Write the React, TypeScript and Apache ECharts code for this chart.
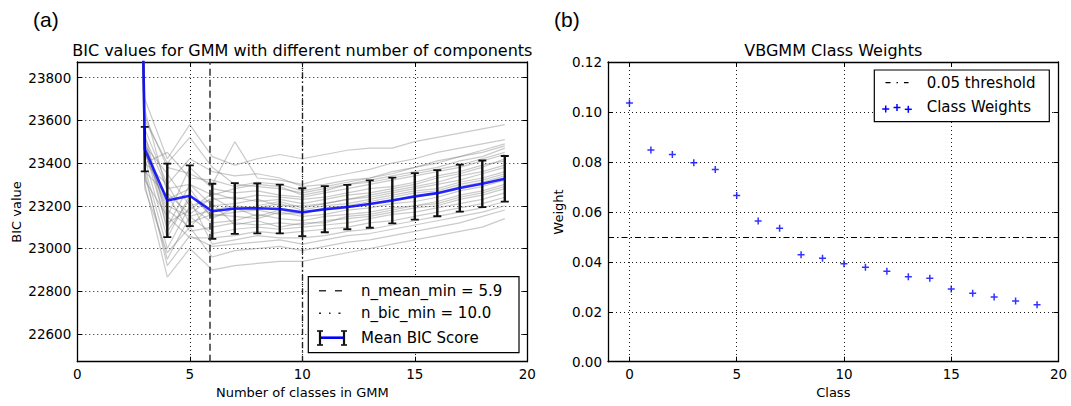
import React, { useEffect, useRef } from "react";
import * as echarts from "echarts";

// ---------- Data ----------
const bicClasses = [2, 3, 4, 5, 6, 7, 8, 9, 10, 11, 12, 13, 14, 15, 16, 17, 18, 19];
const meanBIC = [30000, 23465, 23225, 23247, 23174, 23187, 23188, 23185, 23170, 23184, 23194, 23208, 23225, 23244, 23259, 23283, 23303, 23326];
const stdBIC = [1500, 104, 172, 142, 129, 119, 117, 114, 112, 108, 104, 111, 107, 109, 108, 110, 109, 107];

const bicRuns = [
  [30600, 23700, 23420, 23580, 23430, 23390, 23420, 23440, 23420, 23440, 23460, 23470, 23470, 23500, 23520, 23540, 23560, 23580],
  [30300, 23620, 23380, 23350, 23300, 23500, 23330, 23320, 23300, 23330, 23350, 23370, 23400, 23420, 23450, 23470, 23490, 23510],
  [30100, 23560, 23300, 23420, 23360, 23340, 23350, 23330, 23290, 23300, 23320, 23330, 23350, 23380, 23400, 23430, 23460, 23490],
  [29900, 23520, 23280, 23300, 23250, 23280, 23300, 23290, 23250, 23270, 23300, 23320, 23340, 23360, 23380, 23410, 23430, 23470],
  [30400, 23500, 23150, 23380, 23280, 23260, 23270, 23250, 23240, 23260, 23280, 23300, 23320, 23340, 23360, 23380, 23410, 23440],
  [29700, 23480, 23350, 23200, 23230, 23240, 23220, 23230, 23210, 23230, 23250, 23260, 23280, 23300, 23330, 23350, 23380, 23420],
  [30200, 23460, 23100, 23300, 23200, 23210, 23230, 23200, 23200, 23210, 23230, 23250, 23270, 23290, 23310, 23340, 23360, 23390],
  [29800, 23440, 23200, 23150, 23180, 23200, 23190, 23210, 23180, 23200, 23210, 23230, 23250, 23270, 23280, 23310, 23330, 23360],
  [30000, 23420, 23050, 23250, 23150, 23170, 23180, 23160, 23170, 23180, 23190, 23210, 23230, 23240, 23260, 23290, 23310, 23340],
  [29600, 23400, 23300, 23120, 23160, 23150, 23140, 23170, 23150, 23160, 23180, 23190, 23210, 23220, 23240, 23270, 23290, 23320],
  [30500, 23380, 23000, 23200, 23120, 23130, 23160, 23140, 23130, 23150, 23160, 23170, 23190, 23200, 23220, 23250, 23270, 23300],
  [29900, 23360, 23250, 23080, 23100, 23120, 23110, 23120, 23110, 23130, 23140, 23150, 23170, 23190, 23200, 23230, 23250, 23280],
  [30100, 23340, 22950, 23150, 23070, 23090, 23100, 23090, 23100, 23110, 23120, 23140, 23160, 23170, 23190, 23210, 23230, 23260],
  [29500, 23320, 23150, 23050, 23050, 23060, 23080, 23070, 23080, 23090, 23100, 23120, 23130, 23150, 23170, 23190, 23210, 23240],
  [30300, 23300, 22866, 23000, 22900, 22920, 22930, 22940, 22940, 22960, 22980, 23000, 23020, 23040, 23060, 23080, 23100, 23140],
  [29800, 23280, 22980, 23100, 22960, 22990, 23000, 23010, 22990, 23010, 23030, 23040, 23060, 23080, 23100, 23120, 23150, 23180],
  [30000, 23600, 23400, 23520, 23380, 23300, 23290, 23280, 23260, 23280, 23300, 23310, 23330, 23350, 23370, 23390, 23420, 23450],
  [29700, 23540, 23120, 23180, 23260, 23230, 23250, 23240, 23230, 23240, 23260, 23280, 23290, 23310, 23340, 23360, 23390, 23410],
  [30200, 23480, 23230, 23280, 23140, 23190, 23150, 23180, 23160, 23190, 23200, 23220, 23240, 23260, 23270, 23300, 23320, 23350],
  [29900, 23450, 23180, 23100, 23210, 23110, 23130, 23100, 23120, 23120, 23150, 23160, 23180, 23200, 23210, 23240, 23260, 23290],
  [30400, 23520, 23080, 23230, 23020, 23040, 23060, 23050, 23050, 23060, 23080, 23090, 23110, 23130, 23150, 23170, 23190, 23220],
  [29600, 23400, 23450, 23330, 23320, 23290, 23310, 23300, 23270, 23290, 23310, 23330, 23360, 23380, 23410, 23430, 23450, 23480],
  [30100, 23360, 22920, 23060, 23010, 23020, 23030, 23040, 23020, 23040, 23060, 23070, 23090, 23110, 23130, 23150, 23170, 23200],
  [30000, 23650, 23260, 23160, 23240, 23180, 23200, 23220, 23190, 23210, 23230, 23240, 23260, 23280, 23300, 23320, 23350, 23380],
];

const nMeanMin = 5.9;
const nBicMin = 10.0;

const weightClasses = [0, 1, 2, 3, 4, 5, 6, 7, 8, 9, 10, 11, 12, 13, 14, 15, 16, 17, 18, 19];
const classWeights = [0.1036, 0.0848, 0.083, 0.0797, 0.077, 0.0665, 0.0563, 0.0534, 0.0428, 0.0414, 0.0392, 0.0378, 0.0362, 0.034, 0.0334, 0.0291, 0.0274, 0.0259, 0.0243, 0.0228];
const weightThreshold = 0.05;

const bicYRange = [22470, 23873];
const weightYRange = [0, 0.12];

// ---------- Styling ----------
const FONT = "'DejaVu Sans', 'Liberation Sans', sans-serif";
const PANEL_FONT = "'Liberation Sans', Arial, sans-serif";
const PLUS = "path://M0,2.75H2.75V0H4.25V2.75H7V4.25H4.25V7H2.75V4.25H0Z";

const G0 = { left: 77.3, top: 62, width: 450, height: 299.7 };
const G1 = { left: 608, top: 62, width: 450.5, height: 299.7 };

const gridDot = { show: true, lineStyle: { color: "#000", width: 0.9, type: [1, 3] as any } };
const frameLine = { show: true, onZero: false, lineStyle: { color: "#000", width: 1.3 } };
const tickIn = { show: true, inside: true, length: 5, lineStyle: { color: "#000", width: 1 } };
const labelStyle = (extra: any = {}) => ({ fontFamily: FONT, fontSize: 13.5, color: "#000", ...extra });

function buildOption(): any {
  const grayRuns = bicRuns.map((run, i) => ({
    type: "line",
    name: "run" + i,
    xAxisIndex: 0,
    yAxisIndex: 0,
    data: run.map((v, k) => [bicClasses[k], v]),
    symbol: "none",
    silent: true,
    z: 1,
    lineStyle: { color: "rgba(128,128,128,0.42)", width: 1.2 },
  }));

  const errData = bicClasses.map((c, k) => [c, meanBIC[k], stdBIC[k]]);

  return {
    animation: false,
    backgroundColor: "#fff",
    grid: [
      { ...G0, show: false, containLabel: false },
      { ...G1, show: false, containLabel: false },
    ],
    xAxis: [
      {
        gridIndex: 0, type: "value", min: 0, max: 20, interval: 5, position: "bottom",
        axisLine: frameLine, axisTick: tickIn, splitLine: gridDot,
        axisLabel: labelStyle({ margin: 5 }),
      },
      {
        gridIndex: 0, type: "value", min: 0, max: 20, interval: 5, position: "top",
        axisLine: frameLine, axisTick: tickIn, splitLine: { show: false }, axisLabel: { show: false },
      },
      {
        gridIndex: 1, type: "value", min: -1, max: 20, splitNumber: 4, position: "bottom",
        axisLine: frameLine, axisTick: tickIn, splitLine: gridDot,
        axisLabel: labelStyle({ margin: 5, showMinLabel: false }),
      },
      {
        gridIndex: 1, type: "value", min: -1, max: 20, splitNumber: 4, position: "top",
        axisLine: frameLine, axisTick: tickIn, splitLine: { show: false }, axisLabel: { show: false },
      },
    ],
    yAxis: [
      {
        gridIndex: 0, type: "value", min: bicYRange[0], max: bicYRange[1], splitNumber: 7, position: "left",
        axisLine: frameLine, axisTick: tickIn, splitLine: gridDot,
        axisLabel: labelStyle({ margin: 6, showMinLabel: false, showMaxLabel: false, formatter: (v: number) => String(v) }),
      },
      {
        gridIndex: 0, type: "value", min: bicYRange[0], max: bicYRange[1], splitNumber: 7, position: "right",
        axisLine: frameLine, axisTick: tickIn, splitLine: { show: false }, axisLabel: { show: false },
      },
      {
        gridIndex: 1, type: "value", min: weightYRange[0], max: weightYRange[1], interval: 0.02, position: "left",
        axisLine: frameLine, axisTick: tickIn, splitLine: gridDot,
        axisLabel: labelStyle({ margin: 6, formatter: (v: number) => v.toFixed(2) }),
      },
      {
        gridIndex: 1, type: "value", min: weightYRange[0], max: weightYRange[1], interval: 0.02, position: "right",
        axisLine: frameLine, axisTick: tickIn, splitLine: { show: false }, axisLabel: { show: false },
      },
    ],
    series: [
      ...grayRuns,
      {
        type: "custom",
        name: "errorbars",
        xAxisIndex: 0,
        yAxisIndex: 0,
        clip: true,
        z: 3,
        data: errData,
        renderItem: (params: any, api: any) => {
          const x = api.value(0);
          const m = api.value(1);
          const e = api.value(2);
          const top = api.coord([x, m + e]);
          const bot = api.coord([x, m - e]);
          const cap = 4;
          const st = { stroke: "#111", lineWidth: 2.4 };
          return {
            type: "group",
            children: [
              { type: "line", shape: { x1: top[0], y1: top[1], x2: bot[0], y2: bot[1] }, style: st },
              { type: "line", shape: { x1: top[0] - cap, y1: top[1], x2: top[0] + cap, y2: top[1] }, style: { stroke: "#111", lineWidth: 1.8 } },
              { type: "line", shape: { x1: bot[0] - cap, y1: bot[1], x2: bot[0] + cap, y2: bot[1] }, style: { stroke: "#111", lineWidth: 1.8 } },
            ],
          };
        },
      },
      {
        type: "line",
        name: "Mean BIC Score",
        xAxisIndex: 0,
        yAxisIndex: 0,
        data: bicClasses.map((c, k) => [c, meanBIC[k]]),
        symbol: "none",
        z: 5,
        lineStyle: { color: "rgba(0,0,255,0.85)", width: 2.6 },
        markLine: {
          silent: true,
          symbol: "none",
          label: { show: false },
          data: [
            { xAxis: nMeanMin, lineStyle: { color: "#333", width: 1.5, type: [7, 4] } },
            { xAxis: nBicMin, lineStyle: { color: "#222", width: 1.4, type: [6, 3, 1.5, 3] } },
          ],
        },
      },
      {
        type: "scatter",
        name: "Class Weights",
        xAxisIndex: 2,
        yAxisIndex: 2,
        data: weightClasses.map((c, k) => [c, classWeights[k]]),
        symbol: PLUS,
        symbolSize: 7,
        itemStyle: { color: "#0000ff" },
        z: 5,
        markLine: {
          silent: true,
          symbol: "none",
          label: { show: false },
          data: [{ yAxis: weightThreshold }],
          lineStyle: { color: "#000", width: 1.2, type: [6, 3, 1.5, 3] },
        },
      },
    ],
    graphic: [
      { type: "text", x: 33, y: 19, style: { text: "(a)", fontFamily: PANEL_FONT, fontSize: 21, fill: "#000", textAlign: "left", textVerticalAlign: "middle" } },
      { type: "text", x: 554, y: 19, style: { text: "(b)", fontFamily: PANEL_FONT, fontSize: 21, fill: "#000", textAlign: "left", textVerticalAlign: "middle" } },
      { type: "text", x: 302.3, y: 50.5, style: { text: "BIC values for GMM with different number of components", fontFamily: FONT, fontSize: 16, fill: "#000", textAlign: "center", textVerticalAlign: "middle" } },
      { type: "text", x: 833.3, y: 50.5, style: { text: "VBGMM Class Weights", fontFamily: FONT, fontSize: 16, fill: "#000", textAlign: "center", textVerticalAlign: "middle" } },
      { type: "text", x: 16, y: 212, rotation: Math.PI / 2, style: { text: "BIC value", fontFamily: FONT, fontSize: 13, fill: "#000", textAlign: "center", textVerticalAlign: "middle" } },
      { type: "text", x: 558.5, y: 212, rotation: Math.PI / 2, style: { text: "Weight", fontFamily: FONT, fontSize: 13, fill: "#000", textAlign: "center", textVerticalAlign: "middle" } },
      { type: "text", x: 302.3, y: 392.5, style: { text: "Number of classes in GMM", fontFamily: FONT, fontSize: 13, fill: "#000", textAlign: "center", textVerticalAlign: "middle" } },
      { type: "text", x: 833.3, y: 392.5, style: { text: "Class", fontFamily: FONT, fontSize: 13, fill: "#000", textAlign: "center", textVerticalAlign: "middle" } },

      // Left legend
      { type: "rect", z: 10, shape: { x: 308.3, y: 276.7, width: 210.7, height: 76 }, style: { fill: "#fff", stroke: "#000", lineWidth: 1.2 } },
      { type: "line", z: 11, shape: { x1: 319, y1: 290.7, x2: 343, y2: 290.7 }, style: { stroke: "#333", lineWidth: 1.5, lineDash: [7, 9] } },
      { type: "line", z: 11, shape: { x1: 319, y1: 313.3, x2: 343, y2: 313.3 }, style: { stroke: "#222", lineWidth: 1.4, lineDash: [2, 8, 1.5, 8] } },
      { type: "line", z: 11, shape: { x1: 320, y1: 337.7, x2: 344, y2: 337.7 }, style: { stroke: "#0000ff", lineWidth: 2.6 } },
      { type: "line", z: 11, shape: { x1: 320, y1: 331, x2: 320, y2: 345 }, style: { stroke: "#111", lineWidth: 2.2 } },
      { type: "line", z: 11, shape: { x1: 344, y1: 331, x2: 344, y2: 345 }, style: { stroke: "#111", lineWidth: 2.2 } },
      { type: "line", z: 11, shape: { x1: 317, y1: 331, x2: 323, y2: 331 }, style: { stroke: "#111", lineWidth: 1.6 } },
      { type: "line", z: 11, shape: { x1: 317, y1: 345, x2: 323, y2: 345 }, style: { stroke: "#111", lineWidth: 1.6 } },
      { type: "line", z: 11, shape: { x1: 341, y1: 331, x2: 347, y2: 331 }, style: { stroke: "#111", lineWidth: 1.6 } },
      { type: "line", z: 11, shape: { x1: 341, y1: 345, x2: 347, y2: 345 }, style: { stroke: "#111", lineWidth: 1.6 } },
      { type: "text", z: 11, x: 361, y: 290.7, style: { text: "n_mean_min = " + nMeanMin.toFixed(1), fontFamily: FONT, fontSize: 15, fill: "#000", textAlign: "left", textVerticalAlign: "middle" } },
      { type: "text", z: 11, x: 361, y: 313.3, style: { text: "n_bic_min = " + nBicMin.toFixed(1), fontFamily: FONT, fontSize: 15, fill: "#000", textAlign: "left", textVerticalAlign: "middle" } },
      { type: "text", z: 11, x: 361, y: 337.7, style: { text: "Mean BIC Score", fontFamily: FONT, fontSize: 15, fill: "#000", textAlign: "left", textVerticalAlign: "middle" } },

      // Right legend
      { type: "rect", z: 10, shape: { x: 874.3, y: 70, width: 175, height: 51.7 }, style: { fill: "#fff", stroke: "#000", lineWidth: 1.2 } },
      { type: "line", z: 11, shape: { x1: 885.5, y1: 82.7, x2: 908.5, y2: 82.7 }, style: { stroke: "#000", lineWidth: 1.2, lineDash: [5, 6, 1.5, 6] } },
      { type: "text", z: 11, x: 926.7, y: 82.7, style: { text: weightThreshold.toFixed(2) + " threshold", fontFamily: FONT, fontSize: 15, fill: "#000", textAlign: "left", textVerticalAlign: "middle" } },
      { type: "text", z: 11, x: 926.7, y: 106.7, style: { text: "Class Weights", fontFamily: FONT, fontSize: 15, fill: "#000", textAlign: "left", textVerticalAlign: "middle" } },
      ...[[885.7, 109], [897, 107.5], [908.3, 109.3]].map(([cx, cy]) => ({
        type: "group",
        z: 11,
        children: [
          { type: "line", z: 11, shape: { x1: cx - 3.5, y1: cy, x2: cx + 3.5, y2: cy }, style: { stroke: "#0000ff", lineWidth: 1.5 } },
          { type: "line", z: 11, shape: { x1: cx, y1: cy - 3.5, x2: cx, y2: cy + 3.5 }, style: { stroke: "#0000ff", lineWidth: 1.5 } },
        ],
      })),
    ],
  };
}

export default function App() {
  const ref = useRef<HTMLDivElement>(null);
  useEffect(() => {
    if (!ref.current) return;
    const chart = echarts.init(ref.current, undefined, { renderer: "svg" });
    chart.setOption(buildOption());
    return () => chart.dispose();
  }, []);
  return (
    <div
      ref={ref}
      style={{ position: "fixed", left: 0, top: 0, width: 1071, height: 406, background: "#fff" }}
    />
  );
}
